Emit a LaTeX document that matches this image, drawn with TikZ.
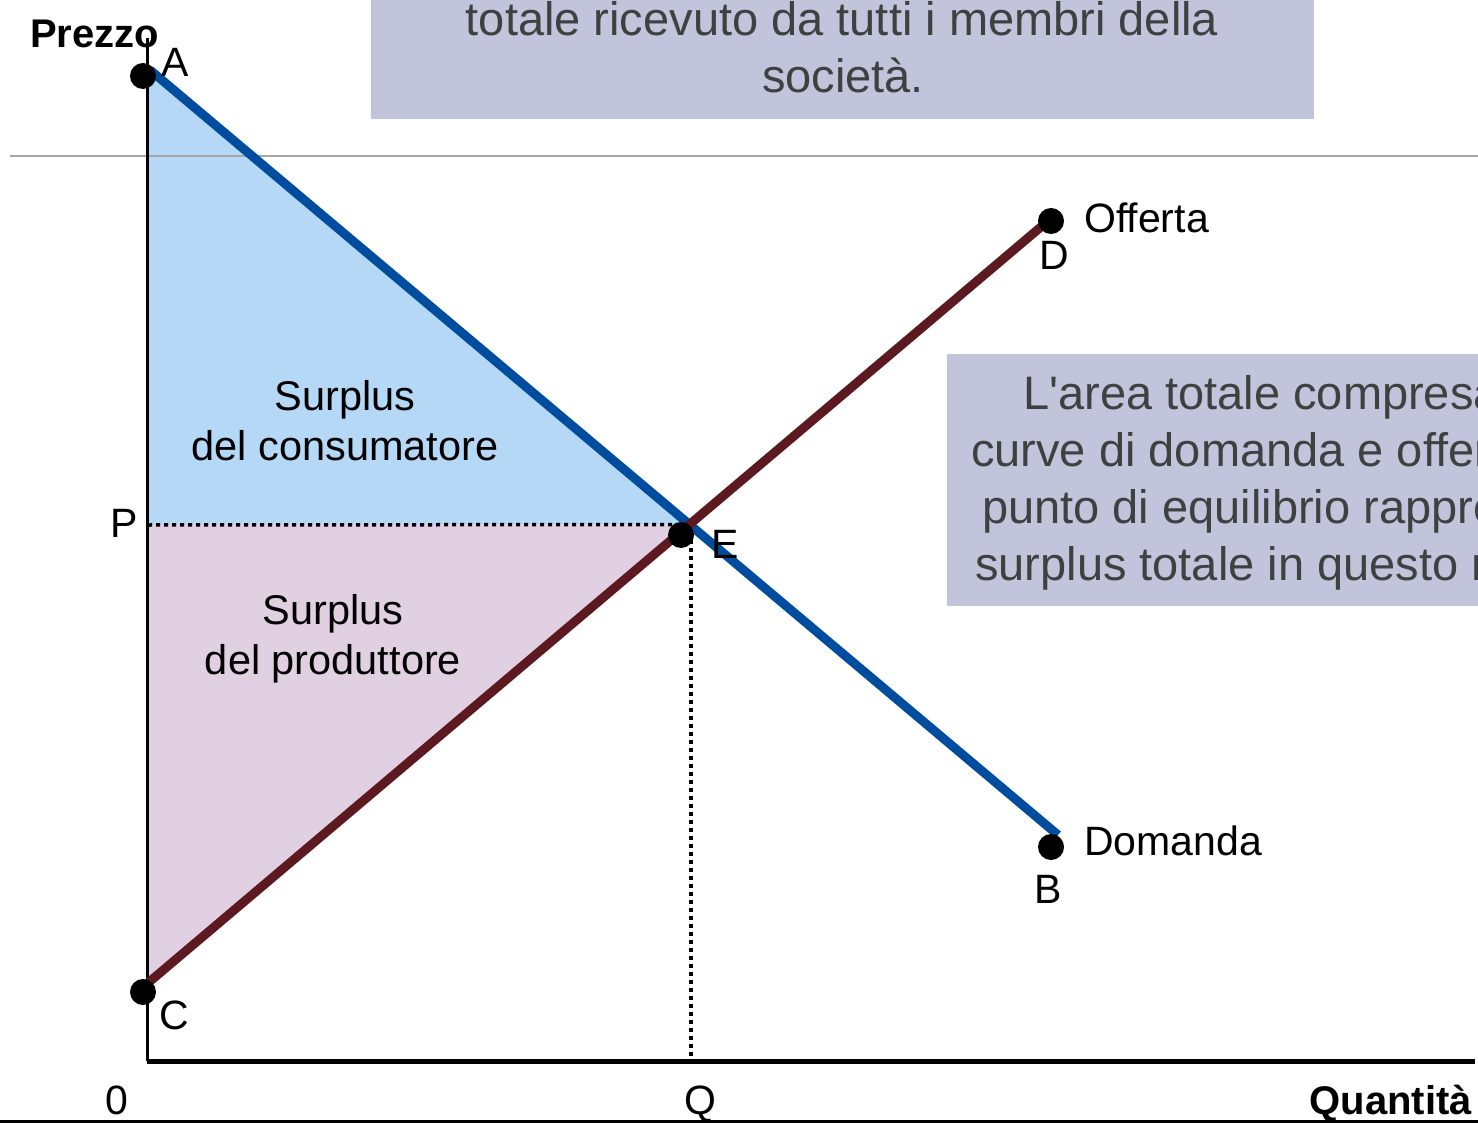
\documentclass[tikz,border=0pt]{standalone}
\usepackage{fontspec}
\setmainfont{Liberation Sans}
\definecolor{demblue}{HTML}{004C9E}
\definecolor{supred}{HTML}{5C1A20}
\definecolor{consfill}{HTML}{B4D8F6}
\definecolor{prodfill}{HTML}{E1CFE2}
\definecolor{boxfill}{HTML}{C2C4DC}
\definecolor{boxtext}{HTML}{404040}
\definecolor{baseline}{HTML}{2E3350}
\tikzset{
  dotpt/.style={circle,fill=black,inner sep=0pt,minimum size=26pt},
  lab/.style={inner sep=0pt,font=\fontsize{41}{48}\selectfont},
  boldlab/.style={inner sep=0pt,font=\fontsize{40}{48}\selectfont\bfseries},
  areatext/.style={inner sep=0pt,align=center,font=\fontsize{41.5}{50}\selectfont},
  boxtxt/.style={inner sep=0pt,text=boxtext,font=\fontsize{47}{57}\selectfont},
  curve/.style={line width=9pt},
  guide/.style={line width=3.5pt,dash pattern=on 4pt off 4pt}
}
\begin{document}
\begin{tikzpicture}[x=1pt,y=-1pt]
\useasboundingbox (0,0) rectangle (1478,1123);
\begin{scope}
\clip (0,0) rectangle (1478,1123);
% key points
\coordinate (dA) at (150,70);
\coordinate (dB) at (1058,835);
\coordinate (sC) at (148,983);
\coordinate (sD) at (1055,215);
\coordinate (Ei) at (intersection of dA--dB and sC--sD);
\coordinate (Pax) at (148,525);
\coordinate (Aax) at (148,73);
\coordinate (Cax) at (148,985);
\coordinate (Qax) at (691,1060);
\coordinate (Qtop) at (691,540);
\coordinate (yTop) at (147,38);
\coordinate (orig) at (147,1061);
\coordinate (xEnd) at (1475,1061);
% surplus areas
\fill[consfill] (Aax) -- (Ei) -- (Pax) -- cycle;
\fill[prodfill] (Pax) -- (Ei) -- (Cax) -- cycle;
% separators
\draw[gray!70,line width=2pt] (10,156) -- (1478,156);
\draw[baseline,line width=3pt] (0,1121) -- (1478,1121);
% top text box
\fill[boxfill] (371,-5) rectangle (1314,119);
\node[boxtxt,anchor=base] (topl1) at (842,36) {totale ricevuto da tutti i membri della};
\node[boxtxt,anchor=base] (topl2) at (843,93) {società.};
% right text box
\fill[boxfill] (947,354) rectangle (1500,606);
\node[boxtxt,anchor=base west] (rl1) at (1023,409) {L\textquotesingle area totale compresa};
\node[boxtxt,anchor=base west] (rl2) at (971,466) {curve di domanda e offerta};
\node[boxtxt,anchor=base west] (rl3) at (982,523) {punto di equilibrio rappresenta};
\node[boxtxt,anchor=base west] (rl4) at (975,580) {surplus totale in questo mercato};
% guides
\draw[guide] (Pax) -- (Ei);
\draw[guide] (Qtop) -- (Qax);
% axes
\draw[line width=3pt] (yTop) -- (orig);
\draw[line width=5pt] (orig) -- (xEnd);
% curves
\draw[curve,demblue] (dA) -- (dB);
\draw[curve,supred] (sC) -- (sD);
% points
\node[dotpt] (ptA) at (143,76) {};
\node[dotpt] (ptB) at (1051,847) {};
\node[dotpt] (ptC) at (143,992) {};
\node[dotpt] (ptD) at (1051,221) {};
\node[dotpt] (ptE) at (681,535) {};
% labels
\node[boldlab,anchor=base west] (prezzo) at (30,48) {Prezzo};
\node[boldlab,anchor=base east] (quant) at (1472,1114) {Quantità};
\node[lab,anchor=base west] (labA) at (161,77) {A};
\node[lab,anchor=base west] (labB) at (1034,903) {B};
\node[lab,anchor=base west] (labC) at (159,1029) {C};
\node[lab,anchor=base west] (labD) at (1039,270) {D};
\node[lab,anchor=base west] (labE) at (711,558) {E};
\node[lab,anchor=base west] (labP) at (110,537) {P};
\node[lab,anchor=base] (labQ) at (700,1114) {Q};
\node[lab,anchor=base] (lab0) at (117,1114) {0};
\node[lab,anchor=base west] (dom) at (1084,855) {Domanda};
\node[lab,anchor=base west] (off) at (1084,233) {Offerta};
\node[areatext] (cs) at (345,421) {Surplus\\del consumatore};
\node[areatext] (ps) at (333,639) {Surplus\\del produttore};
\end{scope}
\end{tikzpicture}
\end{document}
